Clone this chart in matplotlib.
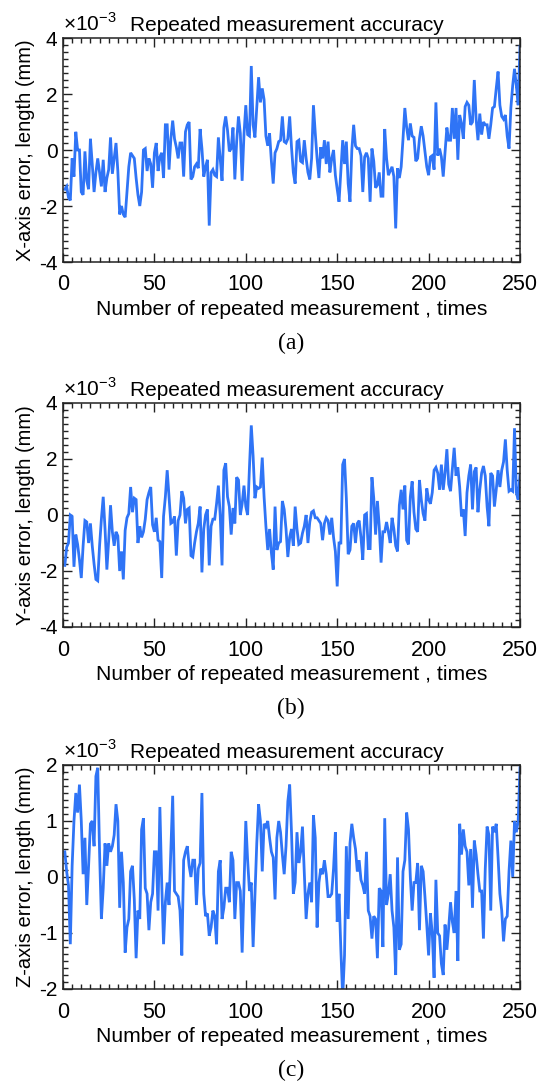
import matplotlib
matplotlib.use("Agg")
import matplotlib.pyplot as plt
from matplotlib.ticker import MultipleLocator

plt.rcParams['font.family'] = ['Liberation Sans', 'DejaVu Sans']
plt.rcParams['axes.unicode_minus'] = False
plt.rcParams['mathtext.fontset'] = 'custom'
plt.rcParams['mathtext.rm'] = 'Liberation Sans'

# ---------------- data (units of 1e-3 mm) ----------------
trials = list(range(1, 251))

x_err = [
    -1.4, -1.3, -1.7, -1.8, -0.3, -0.95, 0.65, 0.0, 0.0, -1.5,
    -1.6, -0.05, -1.1, -1.4, 0.4, -0.5, -1.5, -0.8, -0.3, -0.8,
    -1.3, -0.35, -1.5, -1.0, -0.7, 0.45, -0.85, -0.3, 0.25, -0.75,
    -2.3, -2.0, -2.3, -2.4, -1.5, -0.6, -0.1, -0.2, -0.3, -1.0,
    -1.6, -2.0, -1.5, 0.0, 0.05, -0.75, -0.3, -0.5, -1.35, -0.1,
    0.25, -0.75, -0.25, -0.1, -1.0, 0.9, 0.9, -0.7, 0.4, 1.05,
    0.4, 0.1, -0.3, 0.25, 0.25, -0.95, 0.65, 0.9, 1.0, -1.05,
    -0.95, -0.6, -0.5, -0.65, 0.75, 0.05, -0.95, -0.6, -0.35, -2.7,
    -0.8, -0.7, -0.9, -0.95, 0.45, -0.3, -1.1, 0.8, 1.2, 0.7,
    -0.05, 0.05, 0.8, -1.05, 0.3, 1.2, 0.6, -1.1, 0.55, 1.6,
    0.55, 0.5, 3.0, 0.9, 0.45, 1.5, 2.6, 1.7, 2.2, 1.8,
    0.5, 0.15, 0.6, -0.4, -1.2, -0.1, 0.05, 0.3, 0.35, 1.2,
    0.3, 0.25, 0.4, 1.2, 0.1, -0.8, -1.2, 0.3, 0.35, -0.4,
    -0.45, 0.35, -0.3, -0.8, -1.05, -0.3, 1.6, 0.6, -0.3, -1.0,
    0.1, -0.3, 0.35, -0.5, 0.3, -0.8, -0.3, 0.0, -0.9, -1.4,
    -1.85, -0.75, 0.35, -0.5, 0.3, -1.2, -1.85, 0.0, 0.9, 0.15,
    0.05, 0.05, -0.2, -1.5, -0.25, -0.1, -0.3, -1.85, 0.05, -0.4,
    -1.35, -1.25, -0.8, -1.65, -1.65, 0.75, -0.3, -0.9, -0.75, -0.6,
    -0.95, -2.8, -0.65, -1.0, -0.6, 0.4, 1.5, 0.8, 0.35, 0.95,
    0.5, 0.45, -0.4, -0.3, 0.4, 0.85, 0.5, -0.05, -0.6, -0.9,
    -0.25, -0.2, -0.7, 1.7, -0.2, 0.05, -0.25, -0.95, -0.05, 0.8,
    0.35, 0.35, 1.5, 0.4, 1.5, -0.35, 1.25, 0.95, 0.4, 1.55,
    1.7, 1.6, 0.9, 1.0, 2.5, 1.1, 0.35, 1.3, 0.55, 1.0,
    0.9, 0.9, 0.4, 0.9, 1.5, 1.55, 2.2, 2.8, 1.6, 1.2,
    1.1, 1.25, 0.5, 0.05, 1.5, 2.3, 2.9, 2.3, 1.6, 3.7,
]

y_err = [
    -1.8, -1.15, -1.0, 0.0, -0.05, -1.85, -0.7, -1.05, -1.6, -2.25,
    -1.1, -0.2, -0.25, -1.0, -0.3, -1.1, -1.75, -2.3, -2.35, -1.1,
    -0.15, 0.65, -0.5, -1.95, -0.9, 0.35, -0.6, -1.1, -0.6, -0.75,
    -2.0, -1.3, -2.3, -0.55, -0.1, 0.05, 1.0, 0.1, 0.6, 0.55,
    -1.0, -0.4, -0.8, -0.6, -0.15, 0.55, 0.8, 1.0, -0.35, -0.6,
    -0.1, -0.9, -0.95, -2.25, -0.05, 0.65, 1.6, 0.65, -0.3, -0.25,
    -0.05, -1.45, -0.2, 0.0, 0.85, 0.6, -0.3, 0.2, 0.25, -1.45,
    -1.5, -1.0, -0.6, -0.3, 0.3, -2.05, -0.5, 0.0, 0.2, -1.8,
    -0.4, -0.15, -0.15, 0.4, 1.05, 0.0, -1.8, 1.6, 1.85, 0.65,
    0.3, -0.7, 0.25, -0.3, 1.35, 1.25, 0.0, 0.4, 1.05, 0.3,
    0.0, 1.7, 3.2, 2.1, 0.6, 1.0, 0.95, 1.0, 2.05, 0.65,
    -0.4, -1.25, -0.5, -1.35, -1.95, 0.3, -1.25, -1.0, -0.95, 0.5,
    0.2, -0.5, -1.5, -0.8, -0.5, -1.1, 0.3, -0.5, -1.05, -1.0,
    -0.65, -0.4, 0.0, -1.0, -0.25, 0.1, 0.15, -0.1, -0.1, -0.2,
    -0.3, -0.9, -0.3, -0.1, -0.2, -0.7, -0.1, -0.8, -1.3, -2.55,
    -1.0, -1.0, 1.8, 2.0, 0.6, -1.4, -1.25, -0.4, -0.3, -1.0,
    -0.3, -0.2, -0.8, -1.6, 0.0, 0.05, -1.2, -1.2, 1.35, 0.6,
    -0.7, 0.5, -0.4, -1.7, -0.6, -0.6, -0.25, -0.6, -1.0, -0.1,
    -0.5, -1.1, -1.3, 0.35, 0.9, 0.2, 1.05, -0.9, -1.05, 0.65,
    1.2, 0.1, -0.5, -0.6, 1.25, 0.55, 0.05, -0.2, 0.95, 0.55,
    0.4, 0.8, 1.6, 1.7, 1.5, 0.9, 1.8, 0.9, 1.5, 2.35,
    1.1, 0.85, 1.65, 2.4, 1.4, 1.7, 1.0, -0.05, 0.2, -0.75,
    0.8, 1.4, 1.8, 0.2, 1.55, 1.7, 0.1, 0.9, 1.5, 1.75,
    1.4, 0.3, -0.4, 1.5, 1.4, 0.3, 0.9, 1.6, 1.0, 1.6,
    1.9, 2.7, 1.6, 0.85, 0.9, 0.85, 3.1, 0.8, 0.55, 1.45,
]

z_err = [
    0.45, 0.1, -0.15, -1.2, 0.2, 1.0, 1.5, 1.15, 1.65, 1.0,
    0.05, 0.7, -0.5, 0.2, 0.95, 1.0, 0.55, 1.8, 1.95, 0.45,
    -0.75, -0.2, 0.6, 0.2, 0.6, 0.45, 0.55, 0.75, 1.3, 1.0,
    -0.55, 0.45, -0.1, -1.35, -0.9, -0.75, 0.1, 0.2, -0.4, -1.45,
    -0.6, -0.75, 0.85, 1.05, -0.2, -0.3, -0.95, -0.45, -0.3, 0.45,
    0.45, -0.6, 1.25, -0.1, -1.2, -0.45, -0.1, -0.5, 0.5, 1.45,
    -0.25, -0.3, -0.35, -0.6, -1.4, 0.3, 0.45, 0.55, 0.2, 0.0,
    0.3, 0.3, -0.5, 0.15, 0.25, 1.5, -0.3, -0.7, -0.65, -1.05,
    -0.9, -0.6, -0.7, -1.2, 0.1, 0.3, -0.75, -0.55, -0.2, -0.2,
    -0.45, 0.45, 0.3, -0.75, -0.1, -0.1, -0.25, -1.35, -0.2, 1.0,
    0.3, -0.25, -0.1, -1.25, -0.3, 0.6, 1.3, 1.0, 0.1, 0.95,
    0.9, 1.0, 0.7, 0.45, 0.35, -0.4, 0.7, 1.0, 0.8, 0.4,
    0.05, 0.55, 1.35, 1.65, 0.8, -0.3, -0.1, 0.8, 0.25, 0.45,
    0.9, 0.05, -0.75, -0.3, -0.1, -0.45, 1.1, 0.7, -0.9, -0.1,
    0.15, 0.05, 0.3, 0.05, -0.35, -0.35, -0.3, 0.15, 0.8, -0.8,
    -0.3, -1.3, -2.15, -1.4, 0.55, -0.75, 0.6, 0.95, 0.7, 0.5,
    0.1, 0.3, -0.05, -0.15, -0.3, 0.45, -0.6, -0.7, -1.1, -0.7,
    -0.75, -1.45, -0.2, -0.25, -1.25, 1.05, -0.5, -0.3, 0.05, -0.6,
    -0.9, -1.75, 0.35, -1.3, -1.2, 0.1, 0.3, 1.15, 0.85, 0.0,
    -0.6, -0.1, -0.1, 0.25, -0.95, 0.2, 0.1, -0.35, -0.85, -1.4,
    -0.65, -1.0, -1.8, -0.05, -1.0, -1.05, -1.55, -1.75, -0.85, -1.3,
    -0.9, -0.45, -0.8, -1.0, -0.25, -1.5, 0.95, 0.4, 0.85, 0.55,
    0.45, -0.15, 0.5, -0.55, 0.65, 0.4, 0.05, -0.25, -0.25, -1.1,
    0.15, 0.9, 0.75, -0.6, 0.9, 0.8, 0.95, 0.35, -0.3, -0.6,
    -1.15, -0.75, -0.7, 0.1, 0.65, 0.0, 1.0, 0.8, 1.0, 1.95,
]

series = [x_err, y_err, z_err]
ylabels = ["X-axis error, length (mm)", "Y-axis error, length (mm)",
           "Z-axis error, length (mm)"]
panel_tags = ["(a)", "(b)", "(c)"]
ylims = [(-4, 4), (-4, 4), (-2, 2)]
ymajor = [2, 2, 1]
title_text = "Repeated measurement accuracy"
xlabel_text = "Number of repeated measurement , times"
offset_text = r"$\times$10$^{\mathregular{-3}}$"

# ---------------- figure ----------------
W, H = 542, 1083
fig = plt.figure(figsize=(W / 100, H / 100), dpi=100)

line_color = "#2f74f6"
ax_left, ax_right = 63, 520
tops = [38, 403, 765]
ax_h = 224

for i in range(3):
    top = tops[i]
    ax = fig.add_axes([ax_left / W, 1 - (top + ax_h) / H,
                       (ax_right - ax_left) / W, ax_h / H])
    ax.plot(trials, series[i], color=line_color, lw=2.0, solid_joinstyle='miter')
    ax.set_xlim(0, 250)
    ax.set_ylim(*ylims[i])
    ax.xaxis.set_major_locator(MultipleLocator(50))
    ax.xaxis.set_minor_locator(MultipleLocator(5))
    ax.yaxis.set_major_locator(MultipleLocator(ymajor[i]))
    ax.yaxis.set_minor_locator(MultipleLocator(ymajor[i] / 8))
    ax.tick_params(which='both', direction='in', top=True, right=True,
                   width=1.0, color='#222222')
    ax.tick_params(which='major', length=6.5)
    ax.tick_params(which='minor', length=3.5)
    ax.tick_params(axis='x', pad=9, labelsize=15.5)
    ax.tick_params(axis='y', pad=4, labelsize=15)
    for s in ax.spines.values():
        s.set_linewidth(1.1)
        s.set_color('#222222')
    ax.set_xlabel(xlabel_text, fontsize=15.2, labelpad=3)
    fig.text(26 / W, 1 - (top + ax_h / 2) / H, ylabels[i], rotation=90,
             ha='center', va='center', fontsize=14.5)
    ax.text(0.0, 1.03, offset_text, transform=ax.transAxes,
            ha='left', va='baseline', fontsize=15)
    ax.text(0.147, 1.03, title_text, transform=ax.transAxes,
            ha='left', va='baseline', fontsize=15)
    fig.text(291 / W, 1 - (top + 305) / H, panel_tags[i], ha='center',
             va='center', fontsize=17, family='Liberation Serif')

fig.savefig("out.png", dpi=100)
